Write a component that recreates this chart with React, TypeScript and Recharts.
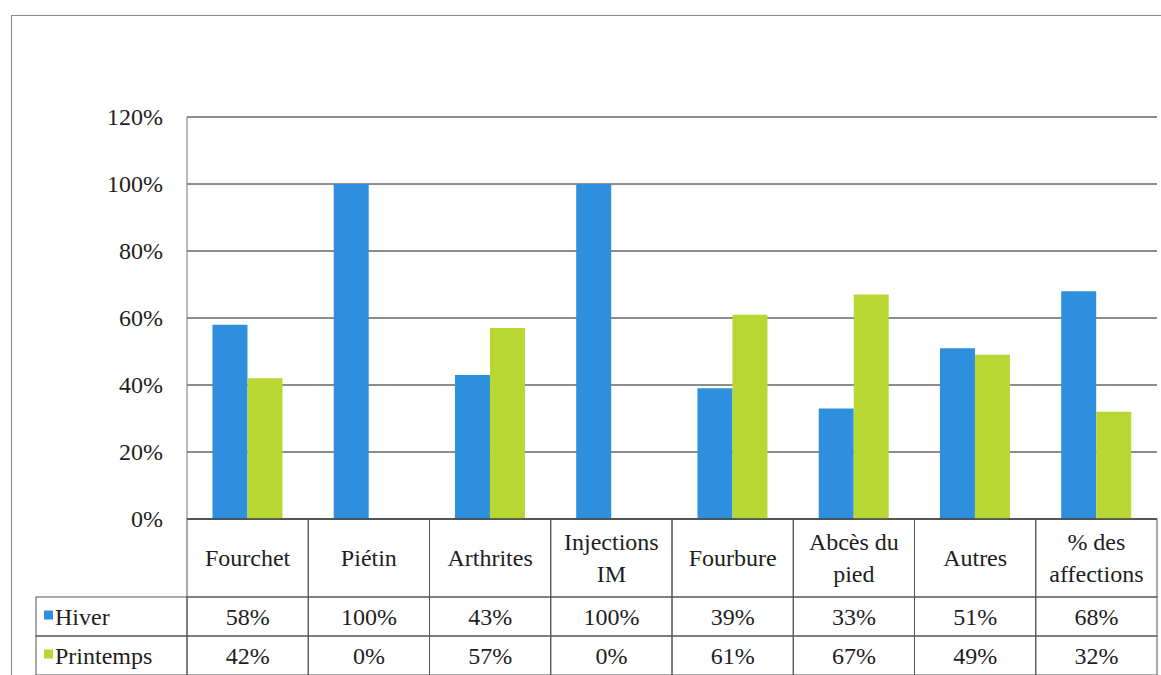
import React from "react";
import { BarChart, Bar, XAxis, YAxis, CartesianGrid } from "recharts";

// ---------------------------------------------------------------------------
// Data
// ---------------------------------------------------------------------------

const categories = [
  "Fourchet",
  "Piétin",
  "Arthrites",
  "Injections\nIM",
  "Fourbure",
  "Abcès du\npied",
  "Autres",
  "% des\naffections",
];
const hiver = [58, 100, 43, 100, 39, 33, 51, 68];
const printemps = [42, 0, 57, 0, 61, 67, 49, 32];
const yTicks = [0, 20, 40, 60, 80, 100, 120];

const seriesNames = ["Hiver", "Printemps"];

// ---------------------------------------------------------------------------
// Layout / style
// ---------------------------------------------------------------------------

const WIDTH = 1161;
const HEIGHT = 720;
const PLOT_LEFT = 187;
const PLOT_RIGHT = 1157;
const PLOT_TOP = 117;
const PLOT_BOTTOM = 519;
const COL_W = (PLOT_RIGHT - PLOT_LEFT) / categories.length;
const CAT_ROW_H = 78;
const VAL_ROW_H = 39;
const LEGEND_LEFT = 36;

const BLUE = "#2f8fdf";
const GREEN = "#b8d733";
const INK = "#1e1e1e";
const RULE = "#555";
const FONT = "'Liberation Serif'";
const FONT_SIZE = 24;

const data = categories.map((c, i) => ({
  name: c,
  hiver: hiver[i],
  printemps: printemps[i],
}));

function Label({ x, y, text, anchor = "middle" }: any) {
  return (
    <text
      x={x}
      y={y}
      textAnchor={anchor}
      dominantBaseline="central"
      fill={INK}
      fontFamily={FONT}
      fontSize={FONT_SIZE}
    >
      {text}
    </text>
  );
}

// ---------------------------------------------------------------------------
// Y tick
// ---------------------------------------------------------------------------

function PercentTick(props: any) {
  const { x, y, payload } = props;
  return <Label x={x} y={y} text={`${payload.value}%`} anchor="end" />;
}

// ---------------------------------------------------------------------------
// Data table drawn under the axis
// ---------------------------------------------------------------------------

function TableTick(props: any) {
  const { x, payload, index } = props;
  const y = PLOT_BOTTOM;
  const left = x - COL_W / 2;
  const lines = String(payload.value).split("\n");
  const lineH = 32;
  const catMid = y + CAT_ROW_H / 2;
  const rowValues = [hiver[index], printemps[index]];

  return (
    <g>
      <rect x={left} y={y} width={COL_W} height={CAT_ROW_H} fill="none" stroke={RULE} />
      {lines.map((l, k) => (
        <Label key={k} x={x} y={catMid + (k - (lines.length - 1) / 2) * lineH} text={l} />
      ))}
      {rowValues.map((v, r) => (
        <g key={r}>
          <rect
            x={left}
            y={y + CAT_ROW_H + r * VAL_ROW_H}
            width={COL_W}
            height={VAL_ROW_H}
            fill="none"
            stroke={RULE}
          />
          <Label x={x} y={y + CAT_ROW_H + r * VAL_ROW_H + VAL_ROW_H / 2} text={`${v}%`} />
        </g>
      ))}
      {/* series legend cells on the left of the first column */}
      {index === 0 &&
        seriesNames.map((s, r) => {
          const top = y + CAT_ROW_H + r * VAL_ROW_H;
          return (
            <g key={s}>
              <rect
                x={LEGEND_LEFT}
                y={top}
                width={left - LEGEND_LEFT}
                height={VAL_ROW_H}
                fill="none"
                stroke={RULE}
              />
              <rect
                x={LEGEND_LEFT + 8}
                y={top + VAL_ROW_H / 2 - 6}
                width={9}
                height={9}
                fill={r === 0 ? BLUE : GREEN}
              />
              <Label x={LEGEND_LEFT + 19} y={top + VAL_ROW_H / 2} text={s} anchor="start" />
            </g>
          );
        })}
    </g>
  );
}

// ---------------------------------------------------------------------------
// App
// ---------------------------------------------------------------------------

export default function App() {
  return (
    <div
      style={{
        position: "absolute",
        left: 0,
        top: 0,
        width: WIDTH,
        height: 675,
        overflow: "hidden",
        background: "#fff",
      }}
    >
      <div
        style={{
          position: "absolute",
          left: 11,
          top: 15,
          width: 1300,
          height: 800,
          border: "1px solid #8a8a8a",
        }}
      />
      <div style={{ position: "absolute", left: 0, top: 0 }}>
        <BarChart
          width={WIDTH}
          height={HEIGHT}
          data={data}
          margin={{ top: PLOT_TOP, right: WIDTH - PLOT_RIGHT, left: 0, bottom: 0 }}
          barGap={0}
          barCategoryGap="21%"
        >
          <CartesianGrid vertical={false} stroke="#1a1a1a" />
          <XAxis
            dataKey="name"
            height={HEIGHT - PLOT_BOTTOM}
            axisLine={{ stroke: "#1a1a1a" }}
            tickLine={false}
            tickSize={0}
            tickMargin={0}
            interval={0}
            tick={<TableTick />}
          />
          <YAxis
            width={PLOT_LEFT}
            domain={[0, 120]}
            ticks={yTicks}
            axisLine={{ stroke: "#777" }}
            tickLine={false}
            tickSize={0}
            tickMargin={24}
            tick={<PercentTick />}
          />
          <Bar dataKey="hiver" name="Hiver" fill={BLUE} isAnimationActive={false} />
          <Bar dataKey="printemps" name="Printemps" fill={GREEN} isAnimationActive={false} />
        </BarChart>
      </div>
    </div>
  );
}
